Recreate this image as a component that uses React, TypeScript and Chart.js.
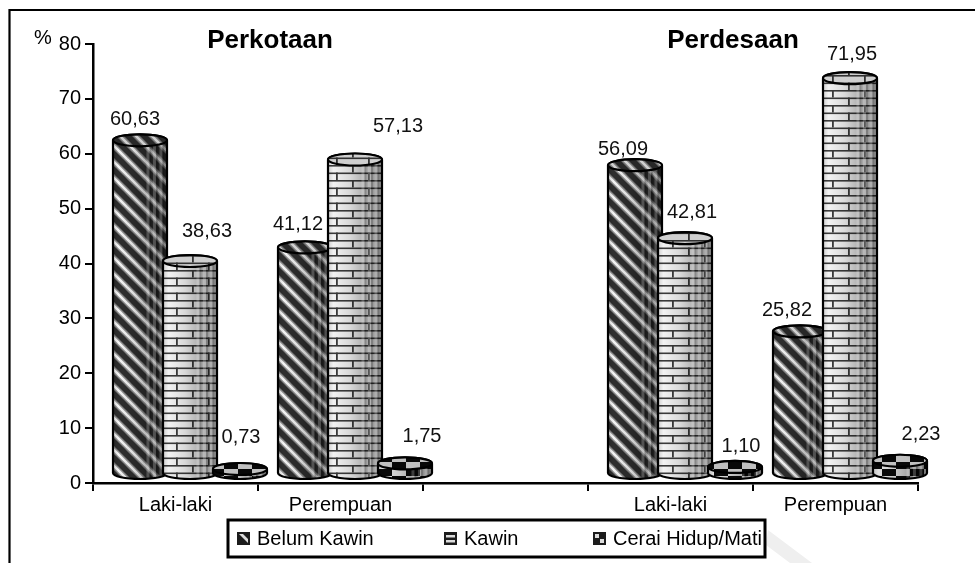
import React, { useEffect, useRef } from "react";
import { Chart, registerables } from "chart.js";

Chart.register(...registerables);

const categories = ["Laki-laki", "Perempuan", "", "Laki-laki", "Perempuan"];
const belumKawin = [60.63, 41.12, null, 56.09, 25.82];
const kawin = [38.63, 57.13, null, 42.81, 71.95];
const ceraiHidupMati = [0.73, 1.75, null, 1.1, 2.23];
const seriesNames = ["Belum Kawin", "Kawin", "Cerai Hidup/Mati"];
const yTicks = [0, 10, 20, 30, 40, 50, 60, 70, 80];

// Hand placement of the value labels, relative to each column's top
const labelDx = [
  [-5, -7, 0, -12, -13],
  [17, 43, 0, 7, 2],
  [1, 17, 0, 6, 21],
];
const labelDy = [
  [-31, -33, 0, -26, -31],
  [-40, -43, 0, -36, -34],
  [-42, -37, 0, -30, -36],
];

const FONT = '"Liberation Sans", Arial, sans-serif';
const DEPTH_X = 14.5;
const DEPTH_Y = -10;
const RX = 27;
const RY = 6;

function tile(w: number, h: number, draw: (c: CanvasRenderingContext2D) => void) {
  const cv = document.createElement("canvas");
  cv.width = w;
  cv.height = h;
  draw(cv.getContext("2d")!);
  return cv;
}

function stripes(c: CanvasRenderingContext2D) {
  c.fillStyle = "#2e2e2e";
  c.fillRect(0, 0, 16, 16);
  for (const [w, col] of [[5.5, "#8a8a8a"], [2.6, "#f4f4f4"]] as [number, string][]) {
    c.strokeStyle = col;
    c.lineWidth = w;
    for (const o of [-16, 0, 16]) {
      c.beginPath();
      c.moveTo(o - 2, -2);
      c.lineTo(o + 18, 18);
      c.stroke();
    }
  }
}

function bricks(c: CanvasRenderingContext2D) {
  c.fillStyle = "#f2f2f2";
  c.fillRect(0, 0, 32, 15);
  c.fillStyle = "#3a3a3a";
  c.fillRect(0, 0, 32, 1.6);
  c.fillRect(0, 7.5, 32, 1.6);
  c.fillRect(0, 0, 1.8, 7.5);
  c.fillRect(16, 7.5, 1.8, 7.5);
}

function checks(c: CanvasRenderingContext2D) {
  c.fillStyle = "#e0e0e0";
  c.fillRect(0, 0, 28, 14);
  c.fillStyle = "#0a0a0a";
  c.fillRect(0, 0, 14, 7);
  c.fillRect(14, 7, 14, 7);
}

function swatchTile(i: number) {
  return tile(13, 13, (c) => {
    c.fillStyle = "#1c1c1c";
    c.fillRect(0, 0, 13, 13);
    c.fillStyle = "#ddd";
    if (i === 0) {
      c.beginPath();
      c.moveTo(2, 2);
      c.lineTo(6, 2);
      c.lineTo(11, 7);
      c.lineTo(11, 11);
      c.closePath();
      c.fill();
    } else if (i === 1) {
      c.fillRect(2, 3, 9, 2.5);
      c.fillRect(2, 8, 9, 2.5);
    } else {
      c.fillRect(2, 2, 4, 4);
      c.fillRect(7, 7, 4, 4);
    }
  });
}

function bodyPath(c: CanvasRenderingContext2D, cx: number, top: number, bottom: number) {
  c.beginPath();
  c.moveTo(cx - RX, top);
  c.lineTo(cx - RX, bottom);
  c.ellipse(cx, bottom, RX, RY, 0, Math.PI, 0, true);
  c.lineTo(cx + RX, top);
  c.ellipse(cx, top, RX, RY, 0, 0, Math.PI, true);
  c.closePath();
}

function shade(c: CanvasRenderingContext2D, cx: number) {
  const g = c.createLinearGradient(cx - RX, 0, cx + RX, 0);
  g.addColorStop(0, "rgba(0,0,0,0.15)");
  g.addColorStop(0.1, "rgba(0,0,0,0)");
  g.addColorStop(0.4, "rgba(0,0,0,0.1)");
  g.addColorStop(0.7, "rgba(0,0,0,0.3)");
  g.addColorStop(1, "rgba(0,0,0,0.42)");
  c.fillStyle = g;
  c.fill();
  // banded reflections on the right of each column
  c.save();
  c.clip();
  const rect = c.canvas.height;
  [0.62, 0.74, 0.86].forEach((f) => {
    c.fillStyle = "rgba(255,255,255,0.22)";
    c.fillRect(cx - RX + f * RX * 2, 0, 3, rect);
    c.fillStyle = "rgba(0,0,0,0.2)";
    c.fillRect(cx - RX + f * RX * 2 + 3, 0, 2, rect);
  });
  c.restore();
}

const cylinders = {
  id: "cylinders",
  afterDatasetsDraw(chart: any) {
    const c: CanvasRenderingContext2D = chart.ctx;
    const patterns = [tile(16, 16, stripes), tile(32, 15, bricks), tile(28, 14, checks)].map(
      (t) => c.createPattern(t, "repeat")!
    );
    const base = chart.scales.y.getPixelForValue(0) + DEPTH_Y;
    chart.data.datasets.forEach((ds: any, di: number) => {
      chart.getDatasetMeta(di).data.forEach((el: any, i: number) => {
        if (ds.data[i] == null) return;
        const cx = el.x + DEPTH_X;
        const top = el.y + DEPTH_Y;
        c.save();
        bodyPath(c, cx, top, base);
        c.fillStyle = patterns[di];
        c.fill();
        shade(c, cx);
        c.strokeStyle = "#000";
        c.lineWidth = 2.2;
        bodyPath(c, cx, top, base);
        c.stroke();
        c.beginPath();
        c.ellipse(cx, top, RX, RY, 0, 0, Math.PI * 2);
        c.fillStyle = patterns[di];
        c.fill();
        c.fillStyle = "rgba(0,0,0,0.14)";
        c.fill();
        c.stroke();
        c.restore();
      });
    });
    // value labels
    c.save();
    c.font = `20px ${FONT}`;
    c.fillStyle = "#111";
    c.textAlign = "center";
    c.textBaseline = "middle";
    chart.data.datasets.forEach((ds: any, di: number) => {
      chart.getDatasetMeta(di).data.forEach((el: any, i: number) => {
        if (ds.data[i] == null) return;
        const text = ds.data[i].toFixed(2).replace(".", ",");
        c.fillText(text, el.x + DEPTH_X + labelDx[di][i], el.y + labelDy[di][i]);
      });
    });
    c.restore();
  },
  afterDraw(chart: any) {
    const c: CanvasRenderingContext2D = chart.ctx;
    c.save();
    // faint scan watermark at the lower right
    c.fillStyle = "#efefef";
    c.beginPath();
    c.moveTo(768, 530);
    c.lineTo(812, 563);
    c.lineTo(790, 563);
    c.lineTo(766, 545);
    c.closePath();
    c.fill();
    // outer frame: only the top and left edges
    c.strokeStyle = "#000";
    c.lineWidth = 2.2;
    c.beginPath();
    c.moveTo(9.5, 563);
    c.lineTo(9.5, 10);
    c.lineTo(975, 10);
    c.stroke();
    // headings
    c.fillStyle = "#000";
    c.textBaseline = "middle";
    c.textAlign = "center";
    c.font = `bold 26px ${FONT}`;
    c.fillText("Perkotaan", 270, 41);
    c.fillText("Perdesaan", 733, 41);
    c.font = `20px ${FONT}`;
    c.fillText("%", 43, 38);
    // legend
    c.lineWidth = 3;
    c.fillStyle = "#fff";
    c.fillRect(228, 520, 537, 37);
    c.strokeRect(228, 520, 537, 37);
    const xs = [237, 444, 593];
    chart.data.datasets.forEach((ds: any, di: number) => {
      const x = xs[di];
      const y = 532;
      c.save();
      c.translate(x, y);
      c.fillStyle = c.createPattern(swatchTile(di), "repeat")!;
      c.fillRect(0, 0, 13, 13);
      c.restore();
      c.fillStyle = "#000";
      c.textAlign = "left";
      c.fillText(ds.label, x + 20, 539);
    });
    c.restore();
  },
};

export default function App() {
  const ref = useRef<HTMLCanvasElement>(null);
  useEffect(() => {
    const clear = "rgba(0,0,0,0)";
    const chart = new Chart(ref.current!, {
      type: "bar",
      data: {
        labels: categories,
        datasets: [belumKawin, kawin, ceraiHidupMati].map((d, i) => ({
          label: seriesNames[i],
          data: d,
          backgroundColor: clear,
          categoryPercentage: 150 / 165,
          barPercentage: 1,
        })),
      },
      options: {
        responsive: false,
        animation: false,
        layout: { padding: { left: 0, top: 44, right: 57, bottom: 0 } },
        plugins: { legend: { display: false }, tooltip: { enabled: false }, title: { display: false } },
        scales: {
          x: {
            afterFit: (s: any) => {
              s.height = 80;
            },
            grid: { offset: true, drawOnChartArea: false, color: "#000", lineWidth: 2, tickLength: 8 },
            border: { color: "#000", width: 2.5 },
            ticks: { color: "#000", font: { family: FONT, size: 20 }, padding: 2, maxRotation: 0, autoSkip: false },
          },
          y: {
            min: 0,
            max: 80,
            afterFit: (s: any) => {
              s.width = 93;
            },
            afterBuildTicks: (s: any) => {
              s.ticks = yTicks.map((v) => ({ value: v }));
            },
            grid: { drawOnChartArea: false, color: "#000", lineWidth: 2, tickLength: 8 },
            border: { color: "#000", width: 2.5 },
            ticks: { color: "#000", font: { family: FONT, size: 20 }, padding: 4 },
          },
        },
      },
      plugins: [cylinders],
    } as any);
    return () => chart.destroy();
  }, []);
  return (
    <div style={{ position: "absolute", left: 0, top: 0, width: 975, height: 563, background: "#fff" }}>
      <canvas ref={ref} width={975} height={563} style={{ display: "block" }} />
    </div>
  );
}
